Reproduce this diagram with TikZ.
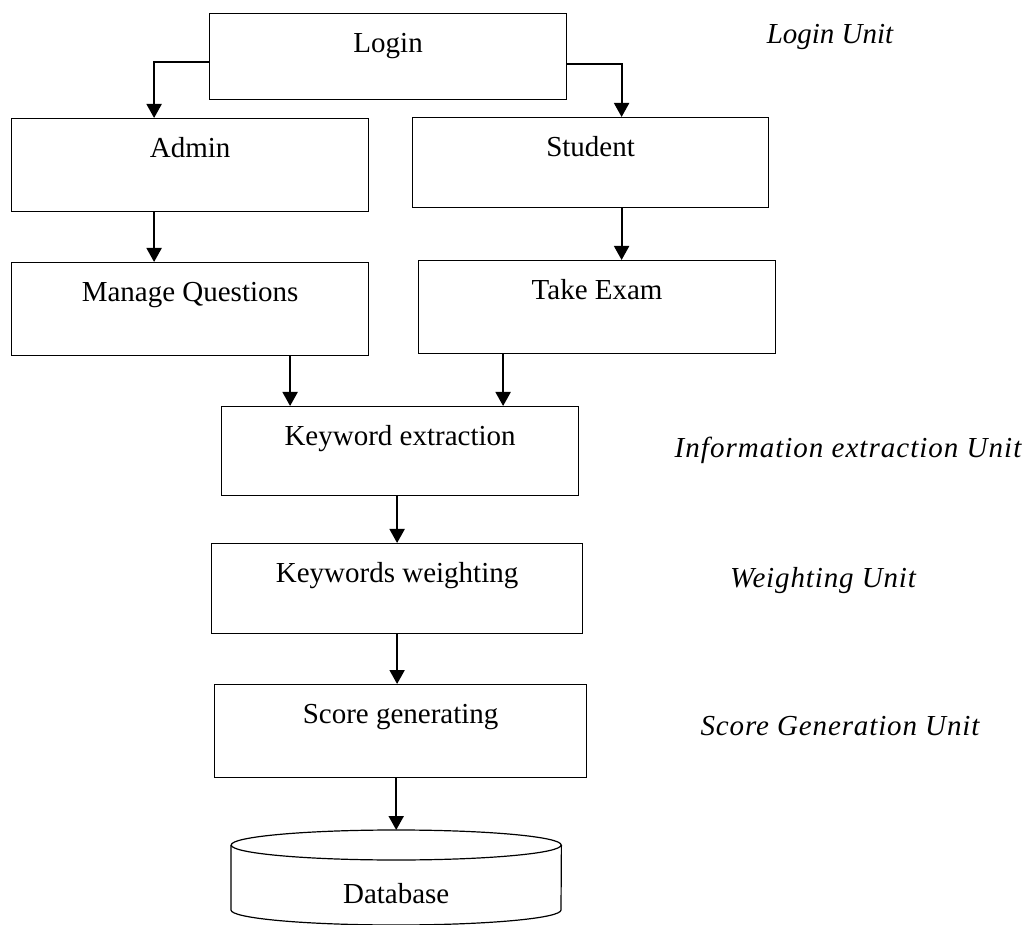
\documentclass[tikz,border=0pt]{standalone}
\usepackage{fontspec}
\setmainfont{Liberation Serif}
\usetikzlibrary{arrows.meta,calc}
\newcommand{\unitname}[1]{ {\itshape #1} }

\begin{document}
\begin{tikzpicture}[x=1pt, y=1pt,
    every node/.style={font=\fontsize{29}{34}\selectfont},
    blk/.style 2 args={draw, line width=1.2pt, anchor=north west, inner sep=0pt,
        minimum width=#1, text height=39pt, text depth=#2},
    arr/.style={line width=2pt, -{Triangle[width=15pt,length=14pt]}}]
    \useasboundingbox (0,0) rectangle (1027,924);

	\node[blk={357pt}{47pt}] (login) at (209,911) {Login};
	\node[blk={357pt}{54pt}] (admin) at (11,806) {Admin};
    \draw[arr] ([yshift=-5pt]login.west) -| ([xshift=-36pt]admin.north);
	\node[blk={356pt}{51pt}] (student) at (412,807) {Student};
    \draw[arr] ([yshift=-7pt]login.east) -| ([xshift=31pt]student.north);

	\node[blk={357pt}{54pt}] (manage) at (11,662) {Manage Questions};
    \draw[arr] ([xshift=-36pt]admin.south) -- ([xshift=-36pt]admin.south |- manage.north);
	\node[blk={357pt}{54pt}] (exam) at (418,664) {Take Exam};
    \draw[arr] ([xshift=31pt]student.south) -- ([xshift=31pt]student.south |- exam.north);

	\node[blk={357pt}{50pt}] (keyword) at (221,518) {Keyword extraction};
    \draw[arr] ([xshift=100pt]manage.south) -- ([xshift=100pt]manage.south |- keyword.north);
    \draw[arr] ([xshift=-94pt]exam.south) -- ([xshift=-94pt]exam.south |- keyword.north);

	\node[blk={371pt}{51pt}] (weight) at (211,381) {Keywords weighting};
    \draw[arr] ([xshift=-3pt]keyword.south) -- ([xshift=-3pt]keyword.south |- weight.north);
	\node[blk={372pt}{54pt}] (score) at (214,240) {Score generating};
    \draw[arr] (weight.south) -- (weight.south |- score.north);

	\node[anchor=north west, inner sep=0pt, minimum width=330pt,
        text height=73pt, text depth=21pt] (db) at (231,94) {Database};
    \draw[arr] (score.south -| db.north) -- (db.north);
    \draw[line width=1.2pt] ([yshift=-15pt]db.north) ellipse [x radius=165pt, y radius=15pt];
    \draw[line width=1.2pt] ([yshift=-15pt]db.north west) -- ([yshift=-80pt]db.north west)
        arc[start angle=180, end angle=360, x radius=165pt, y radius=15pt] -- ([yshift=-15pt]db.north east);

	\node (lunit) at (830,887) {\unitname{Login Unit}};
	\node (iunit) at (848,474) {\addfontfeature{LetterSpace=3.5}\unitname{Information extraction Unit}};
	\node (wunit) at (823,343) {\addfontfeature{LetterSpace=3}\unitname{Weighting Unit}};
	\node (sunit) at (840,198) {\addfontfeature{LetterSpace=3}\unitname{Score Generation Unit}};
\end{tikzpicture}
\end{document}
